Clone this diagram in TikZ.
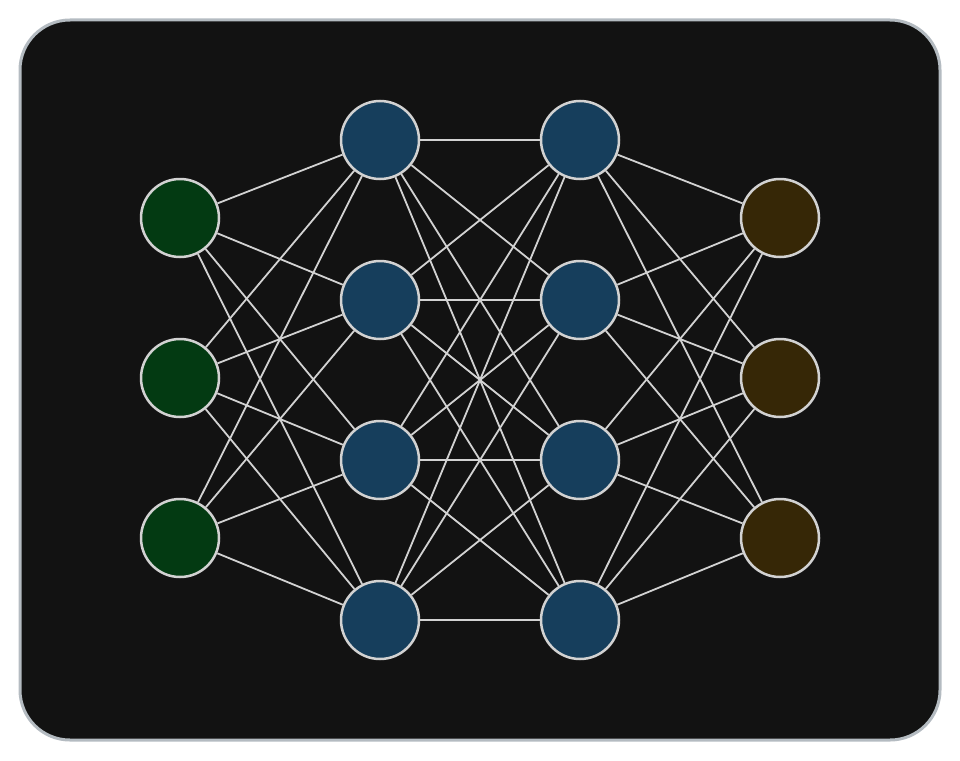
\documentclass[tikz,border=0pt]{standalone}
\definecolor{bgc}{HTML}{121212}
\definecolor{framec}{HTML}{B4BBC1}
\definecolor{linec}{HTML}{D2D2D2}
\definecolor{inc}{HTML}{033A12}
\definecolor{hidc}{HTML}{163E5C}
\definecolor{outc}{HTML}{362706}
\begin{document}
\begin{tikzpicture}[x=1pt,y=-1pt,
  neuron/.style={circle,draw=linec,line width=2.5pt,minimum size=78pt,inner sep=0pt},
  innode/.style={neuron,fill=inc},
  hidnode/.style={neuron,fill=hidc},
  outnode/.style={neuron,fill=outc},
  conn/.style={draw=linec,line width=1.8pt}]
\useasboundingbox (0,0) rectangle (960,760);
\draw[fill=bgc,draw=framec,line width=3pt,rounded corners=50pt] (20,20) rectangle (940,740);
\foreach \i/\y in {1/218,2/378,3/538} {
  \node[innode] (i\i) at (180,\y) {};
  \node[outnode] (o\i) at (780,\y) {};
}
\foreach \i/\y in {1/140,2/300,3/460,4/620} {
  \node[hidnode] (a\i) at (380,\y) {};
  \node[hidnode] (b\i) at (580,\y) {};
}
\foreach \i in {1,2,3} \foreach \j in {1,2,3,4} {
  \draw[conn] (i\i) -- (a\j);
  \draw[conn] (b\j) -- (o\i);
}
\foreach \i in {1,2,3,4} \foreach \j in {1,2,3,4} {
  \draw[conn] (a\i) -- (b\j);
}
\end{tikzpicture}
\end{document}
